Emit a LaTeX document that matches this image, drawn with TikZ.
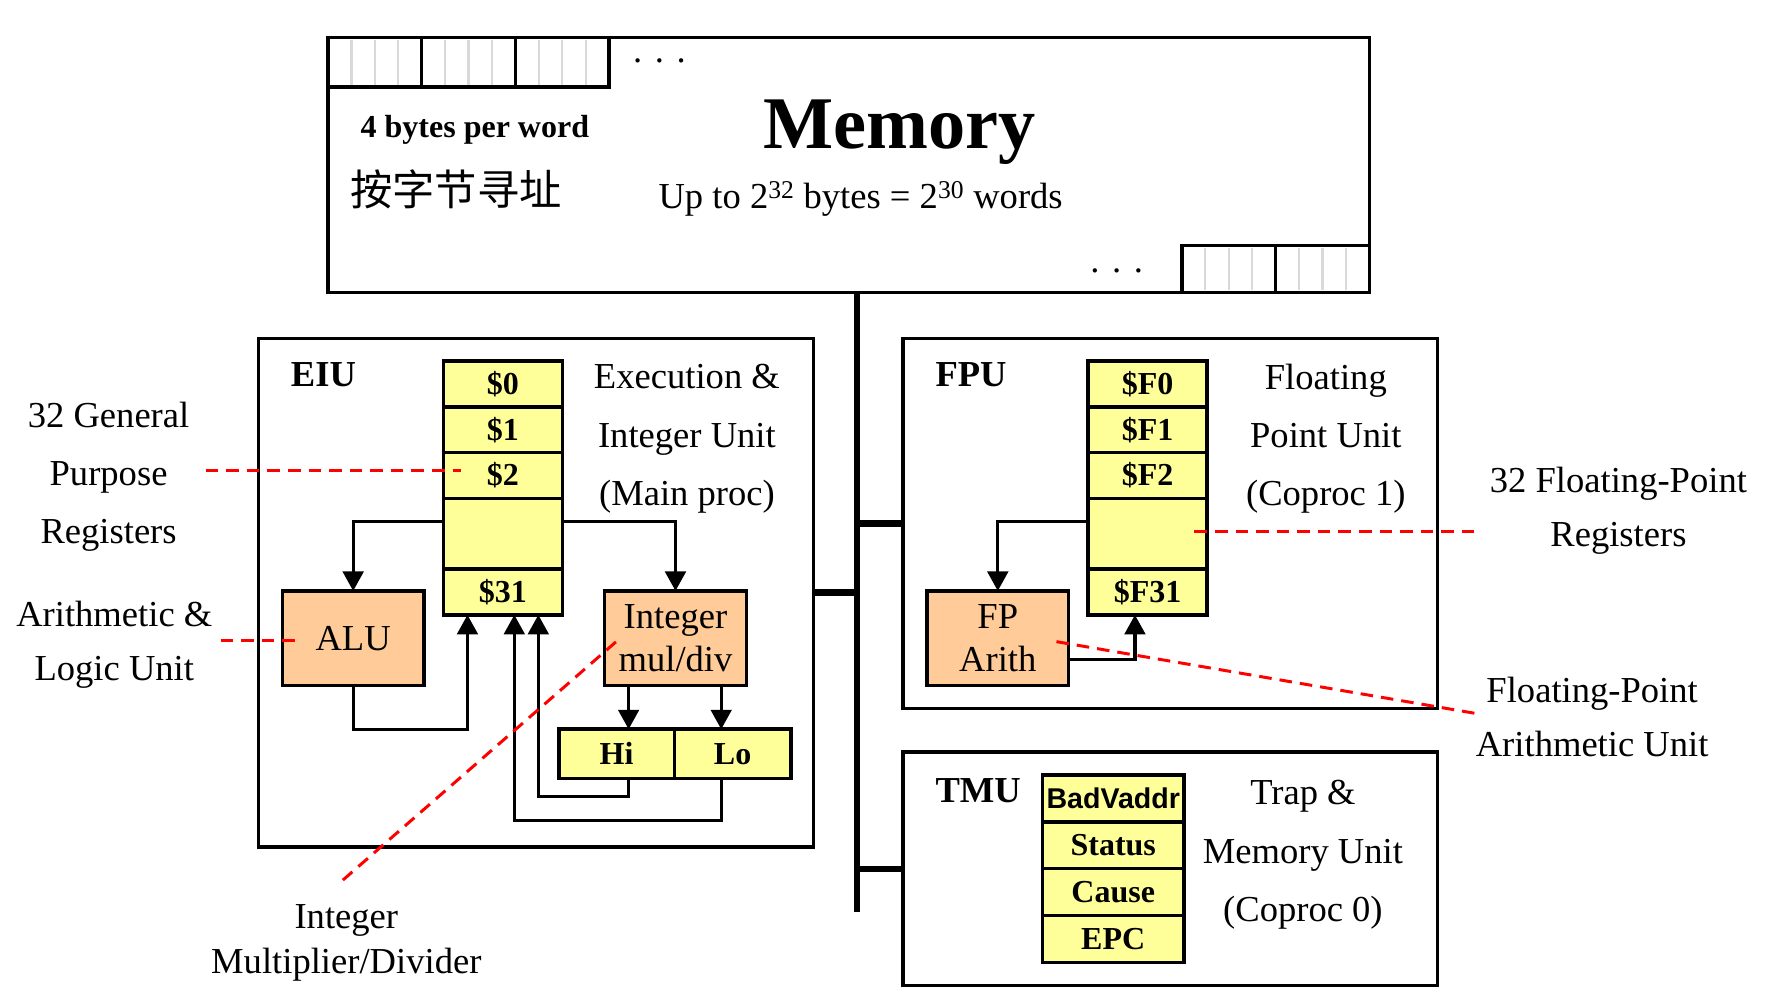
\documentclass[tikz,border=0pt]{standalone}
\usepackage{fontspec}
\setmainfont{Liberation Serif}
\newfontfamily\arialfont{Liberation Sans}
\newfontfamily\cjkfont{Noto Sans CJK SC}
\usetikzlibrary{positioning,calc,arrows.meta}
\definecolor{regyellow}{HTML}{FFFF99}
\definecolor{aluorange}{HTML}{FFCC99}
\tikzset{
	%Define standard arrow tip
	>={Triangle[length=17pt,width=18pt]},
	%Define style for unit frames
	unitbox/.style={
		rectangle,
		draw=black, line width=2.8pt,
		inner sep=0, outer sep=0,
		anchor=north west},
	%Define style for memory words
	wordcell/.style={
		rectangle,
		draw=black, line width=3pt,
		minimum width=82pt,
		minimum height=43pt,
		inner sep=0, outer sep=0,
		anchor=north west},
	%Define style for registers
	regcell/.style={
		rectangle,
		draw=black, line width=3pt,
		fill=regyellow,
		minimum width=104pt,
		minimum height=40pt,
		inner sep=0, outer sep=0,
		font=\fontsize{28}{30}\selectfont\bfseries},
	%Define style for arithmetic boxes
	arith/.style={
		rectangle,
		draw=black, line width=3pt,
		fill=aluorange,
		minimum width=124pt,
		minimum height=83pt,
		inner sep=0, outer sep=0,
		align=center,
		font=\fontsize{32}{38}\selectfont},
	lbl/.style={align=center, font=\fontsize{32}{51}\selectfont},
	unitname/.style={anchor=west, font=\fontsize{32}{36}\selectfont\bfseries},
	% Define arrow style
	pil/.style={->, line width=2.8pt},
	% Define pointer style
	pointer/.style={red, line width=2.6pt, dash pattern=on 11pt off 7pt},
	bus/.style={line width=5.5pt}
}
\begin{document}
\begin{tikzpicture}[x=1pt,y=-1pt]
	\useasboundingbox (0,0) rectangle (1567,881);
	% memory
	\node[unitbox, line width=3pt, minimum width=911pt, minimum height=223pt] (mem) at (287,33) {};
	\foreach \i in {0,1,2} {
		\node[wordcell] (wt\i) at ({287+82*\i},33) {};
		\foreach \k in {1,2,3}
			\draw[gray!30, line width=2pt] ($(wt\i.north west)+({20.5*\k},2)$) -- ($(wt\i.south west)+({20.5*\k},-2)$);
	}
	\foreach \i in {0,1} {
		\node[wordcell, minimum height=41pt] (wb\i) at ({1034+82*\i},215) {};
		\foreach \k in {1,2,3}
			\draw[gray!30, line width=2pt] ($(wb\i.north west)+({20.5*\k},2)$) -- ($(wb\i.south west)+({20.5*\k},-2)$);
	}
	\node[font=\fontsize{32}{32}\selectfont] (dotstop) at (577,53) {.\hspace{11pt}.\hspace{11pt}.};
	\node[font=\fontsize{32}{32}\selectfont] (dotsbot) at (977,237) {.\hspace{11pt}.\hspace{11pt}.};
	\node[anchor=west, font=\fontsize{28}{30}\selectfont\bfseries] (bpw) at (312,114) {4 bytes per word};
	\node[anchor=west, font=\cjkfont\fontsize{37}{40}\selectfont] (addr) at (303,166) {按字节寻址};
	\node[font=\fontsize{65}{70}\selectfont\bfseries] (memtitle) at (787,116) {Memory};
	\node[font=\fontsize{32}{36}\selectfont] (memsize) at (753,174) {Up to 2\textsuperscript{32} bytes = 2\textsuperscript{30} words};
	% units
	\node[unitbox, minimum width=486pt, minimum height=445pt] (eiu) at (226,296) {};
	\node[unitbox, minimum width=468pt, minimum height=324pt] (fpu) at (790,296) {};
	\node[unitbox, minimum width=468pt, minimum height=204pt] (tmu) at (790,658) {};
	\node[unitname] (eiuname) at (251,328) {EIU};
	\node[unitname] (fpuname) at (815,328) {FPU};
	\node[unitname] (tmuname) at (815,692) {TMU};
	\node[lbl] (eiutext) at (601,384) {Execution \&\\Integer Unit\\(Main proc)};
	\node[lbl] (fputext) at (1160,384) {Floating\\Point Unit\\(Coproc 1)};
	\node[lbl] (tmutext) at (1140,748) {Trap \&\\Memory Unit\\(Coproc 0)};
	% bus
	\coordinate (bustop) at (750,256);
	\coordinate (busbot) at (750,798);
	\draw[bus] (bustop) -- (busbot);
	\draw[bus] (eiu.east) -- (eiu.east -| bustop);
	\draw[bus] (fpu.west) -- (fpu.west -| bustop);
	\draw[bus] (tmu.west) -- (tmu.west -| bustop);
	% integer registers
	\node[regcell] (r0) at (440,336) {\$0};
	\node[regcell, below=0pt of r0] (r1) {\$1};
	\node[regcell, below=0pt of r1] (r2) {\$2};
	\node[regcell, below=0pt of r2, minimum height=62pt] (rb) {};
	\node[regcell, below=0pt of rb] (r31) {\$31};
	\node[arith] (alu) at (309,558.5) {ALU};
	\node[arith] (mul) at (591,558.5) {Integer\\mul/div};
	\node[regcell, minimum width=101pt, minimum height=43pt] (hi) at (539.5,659.5) {Hi};
	\node[regcell, minimum width=102pt, minimum height=43pt, right=0pt of hi] (lo) {Lo};
	\coordinate (m1) at ($(mul.south west)+(21,0)$);
	\coordinate (m2) at ($(mul.south east)+(-22,0)$);
	\draw[pil] ($(rb.north west)+(0,20)$) -| (alu.north);
	\draw[pil] ($(rb.north east)+(0,20)$) -| (mul.north);
	\draw[pil] (alu.south) -- ++(0,38) -| ($(r31.south west)+(21,0)$);
	\draw[pil] (m1) -- (m1 |- hi.north);
	\draw[pil] (m2) -- (m2 |- lo.north);
	\draw[pil] (m1 |- hi.south) -- ++(0,16) -| ($(r31.south west)+(83,0)$);
	\draw[pil] (m2 |- lo.south) -- ++(0,37) -| ($(r31.south west)+(62,0)$);
	% floating point registers
	\node[regcell] (f0) at (1004,336) {\$F0};
	\node[regcell, below=0pt of f0] (f1) {\$F1};
	\node[regcell, below=0pt of f1] (f2) {\$F2};
	\node[regcell, below=0pt of f2, minimum height=62pt] (fb) {};
	\node[regcell, below=0pt of fb] (f31) {\$F31};
	\node[arith] (fp) at (873,558.5) {FP\\Arith};
	\draw[pil] ($(fb.north west)+(0,20)$) -| (fp.north);
	\draw[pil] ($(fp.south east)+(0,-23)$) -| ($(f31.south west)+(41,0)$);
	% trap registers
	\node[regcell, minimum width=124pt, minimum height=41pt, font=\arialfont\fontsize{25}{26}\selectfont\bfseries] (bad) at (974,698.5) {BadVaddr};
	\node[regcell, minimum width=124pt, minimum height=41pt, below=0pt of bad] (status) {Status};
	\node[regcell, minimum width=124pt, minimum height=41pt, below=0pt of status] (cause) {Cause};
	\node[regcell, minimum width=124pt, minimum height=41pt, below=0pt of cause] (epc) {EPC};
	% outside labels
	\node[lbl] (gprlbl) at (95,417) {32 General\\Purpose\\Registers};
	\node[lbl, font=\fontsize{32}{47}\selectfont] (alulbl) at (100,564) {Arithmetic \&\\Logic Unit};
	\node[lbl, font=\fontsize{32}{39}\selectfont] (imdlbl) at (303,825) {Integer\\Multiplier/Divider};
	\node[lbl, font=\fontsize{32}{47}\selectfont] (fprlbl) at (1416,447) {32 Floating-Point\\Registers};
	\node[lbl, font=\fontsize{32}{47}\selectfont] (falbl) at (1393,627) {Floating-Point\\Arithmetic Unit};
	\coordinate (gprtip) at (180,412);
	\coordinate (alutip) at (193,560);
	\coordinate (imdtip) at (300,770);
	\coordinate (fprtip) at (1290,465);
	\coordinate (fatip) at (1290,624);
	\draw[pointer] (gprtip) -- ($(r2.west)+(15,-4)$);
	\draw[pointer] (alutip) -- ($(alu.west)+(18,1.5)$);
	\draw[pointer] (imdtip) -- ($(mul.west)+(10,3)$);
	\draw[pointer] (fprtip) -- ($(fb.center)+(36,-2)$);
	\draw[pointer] (fatip) -- ($(fp.east)+(-13,2.5)$);
\end{tikzpicture}
\end{document}
